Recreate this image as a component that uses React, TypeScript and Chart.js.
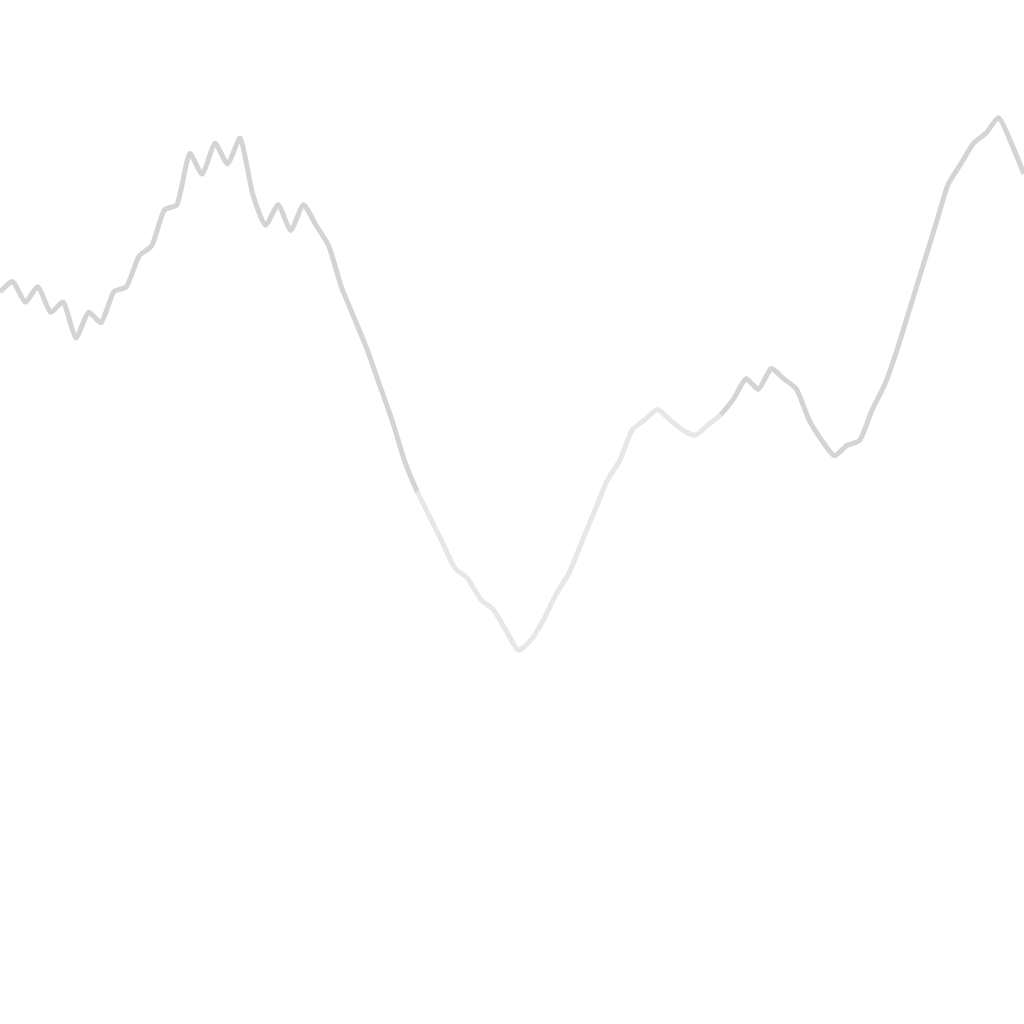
import React, { useEffect, useRef } from "react";
import { Chart, registerables } from "chart.js";

Chart.register(...registerables);

const steps: number[] = Array.from({ length: 82 }, (_, i) => i);

const values: number[] = [
  71.5, 72.5, 70.5, 72, 69.5, 70.5, 67, 69.5, 68.5, 71.5,
  72, 75, 76, 79.5, 80, 85, 83, 86, 84, 86.5,
  81, 78, 80, 77.5, 80, 78, 76, 72, 69, 66,
  62.5, 59, 55, 52, 49.5, 47, 44.5, 43.5, 41.5, 40.5,
  38.5, 36.5, 37.5, 39.5, 42, 44, 47, 50, 53, 55,
  58, 59, 60, 59, 58, 57.5, 58.5, 59.5, 61, 63,
  62, 64, 63, 62, 59, 57, 55.5, 56.5, 57, 60,
  62.5, 66, 70, 74, 78, 82, 84, 86, 87, 88.5,
  86, 83,
];

export default function App() {
  const ref = useRef<HTMLCanvasElement | null>(null);
  useEffect(() => {
    if (!ref.current) return;
    const chart = new Chart(ref.current, {
      type: "line",
      data: {
        labels: steps.map(String),
        datasets: [
          {
            data: values,
            borderColor: "rgba(205,205,205,0.85)",
            borderWidth: 5,
            pointRadius: 0,
            tension: 0.2,
            fill: false,
            segment: {
              borderColor: (ctx: any) =>
                ctx.p0DataIndex >= 33 && ctx.p0DataIndex <= 56
                  ? "rgba(225,225,225,0.8)"
                  : "rgba(205,205,205,0.85)",
            },
          },
        ],
      },
      options: {
        animation: false,
        responsive: true,
        maintainAspectRatio: false,
        layout: { padding: 0 },
        plugins: { legend: { display: false }, tooltip: { enabled: false } },
        scales: {
          x: { display: false, offset: false },
          y: { display: false, min: 0, max: 100 },
        },
      },
    });
    return () => chart.destroy();
  }, []);
  return (
    <div style={{ position: "fixed", left: 0, top: 0, width: 1024, height: 1024, background: "#fff" }}>
      <canvas ref={ref} />
    </div>
  );
}
